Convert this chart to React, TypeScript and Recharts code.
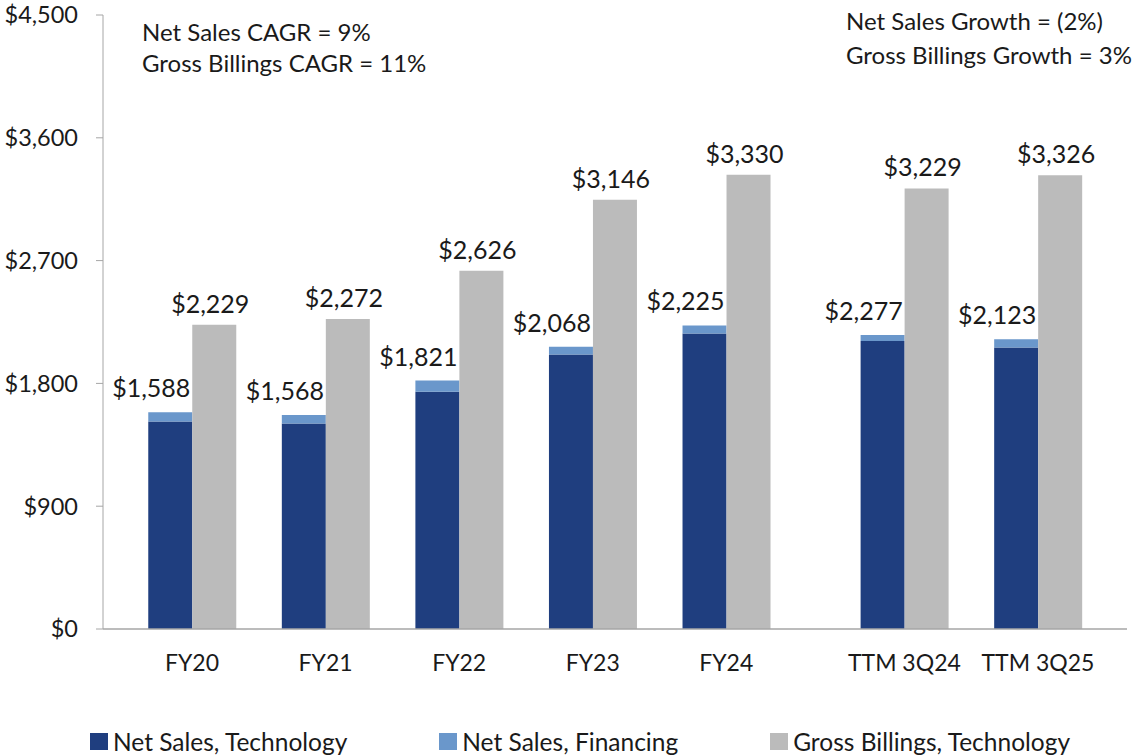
import React from 'react';
import { BarChart, Bar, XAxis, YAxis, Legend, LabelList } from 'recharts';

const categories = ['FY20', 'FY21', 'FY22', 'FY23', 'FY24', 'TTM 3Q24', 'TTM 3Q25'];
const netSalesTechnology = [1520, 1506, 1738, 2012, 2166, 2111, 2064];
const netSalesFinancing = [68, 62, 83, 56, 59, 44, 59];
const grossBillingsTechnology = [2229, 2272, 2626, 3146, 3330, 3229, 3326];
const netSalesLabels = [1588, 1568, 1821, 2068, 2225, 2277, 2123];
const yTicks = [0, 900, 1800, 2700, 3600, 4500];
const notesLeft = ['Net Sales CAGR = 9%', 'Gross Billings CAGR = 11%'];
const notesRight = ['Net Sales Growth = (2%)', 'Gross Billings Growth = 3%'];
const seriesNames = ['Net Sales, Technology', 'Net Sales, Financing', 'Gross Billings, Technology'];

const COLORS = { tech: '#1F3E7F', fin: '#6A97CB', gross: '#BBBBBB' };
const FONT = 'Lato, "Noto Sans", sans-serif';
const TEXT = '#1a1a1a';

const TTM_GAP = 1 / 3;
const slots = categories.map((c, i) => i + (c.startsWith('TTM') ? TTM_GAP : 0));

const data = categories.map((c, i) => ({
  slot: slots[i],
  name: c,
  tech: netSalesTechnology[i],
  fin: netSalesFinancing[i],
  gross: grossBillingsTechnology[i],
  netLabel: netSalesLabels[i],
}));

const money = (v: number) => `$${Number(v).toLocaleString('en-US')}`;

const XTick = (props: any) => {
  const { x, y, payload } = props;
  const idx = slots.findIndex((s) => Math.abs(s - payload.value) < 1e-6);
  return (
    <text x={x} y={y + 33} textAnchor="middle" dominantBaseline="central" fontSize={23} fontFamily={FONT} fill={TEXT}>
      {idx >= 0 ? categories[idx] : ''}
    </text>
  );
};

const NetLabel = (props: any) => {
  const { x, y, width, value } = props;
  return (
    <text x={x + width / 2 - 19} y={y - 25} textAnchor="middle" dominantBaseline="central" fontSize={25} fontFamily={FONT} fill={TEXT}>
      {money(value)}
    </text>
  );
};

const GrossLabel = (props: any) => {
  const { x, y, width, value } = props;
  return (
    <text x={x + width / 2 - 4} y={y - 22} textAnchor="middle" dominantBaseline="central" fontSize={25} fontFamily={FONT} fill={TEXT}>
      {money(value)}
    </text>
  );
};

const LegendContent = () => {
  const colors = [COLORS.tech, COLORS.fin, COLORS.gross];
  return (
    <div style={{ display: 'flex', justifyContent: 'flex-start', paddingLeft: 90, gap: 92, fontFamily: FONT, fontSize: 24.5, color: TEXT }}>
      {seriesNames.map((n, i) => (
        <div key={n} style={{ display: 'flex', alignItems: 'center', whiteSpace: 'nowrap' }}>
          <span style={{ display: 'inline-block', width: 18, height: 17, background: colors[i], marginRight: 5 }} />
          <span>{n}</span>
        </div>
      ))}
    </div>
  );
};

export default function App() {
  return (
    <div style={{ position: 'absolute', left: 0, top: 0, width: 1135, height: 755, background: '#fff', fontFamily: FONT }}>
      <BarChart width={1135} height={755} data={data} margin={{ top: 15, right: 8, left: 0, bottom: 0 }} barGap={0}>
        <XAxis
          type="number"
          dataKey="slot"
          domain={[-2 / 3, 7]}
          ticks={slots}
          interval={0}
          allowDataOverflow
          height={126}
          tickLine={false}
          tickSize={0}
          tickMargin={0}
          tick={<XTick />}
          axisLine={{ stroke: '#A6A6A6', strokeWidth: 1.5 }}
        />
        <YAxis
          type="number"
          domain={[0, 4500]}
          ticks={yTicks}
          interval={0}
          width={103}
          tickSize={7}
          tickMargin={18}
          tickFormatter={money}
          tick={{ fontSize: 23.5, fontFamily: FONT, fill: TEXT }}
          tickLine={{ stroke: '#A6A6A6' }}
          axisLine={{ stroke: '#A6A6A6' }}
        />
        <Legend
          verticalAlign="middle"
          align="center"
          layout="horizontal"
          content={<LegendContent />}
          wrapperStyle={{ top: 727, left: 0, width: 1135, height: 28 }}
        />
        <Bar dataKey="tech" stackId="net" fill={COLORS.tech} barSize={44} isAnimationActive={false} name={seriesNames[0]} />
        <Bar dataKey="fin" stackId="net" fill={COLORS.fin} barSize={44} isAnimationActive={false} name={seriesNames[1]}>
          <LabelList dataKey="netLabel" content={<NetLabel />} />
        </Bar>
        <Bar dataKey="gross" fill={COLORS.gross} barSize={44} isAnimationActive={false} name={seriesNames[2]}>
          <LabelList dataKey="gross" content={<GrossLabel />} />
        </Bar>
      </BarChart>
      <div style={{ position: 'absolute', left: 142, top: 16, fontSize: 24, lineHeight: '31px', color: TEXT, whiteSpace: 'nowrap' }}>
        {notesLeft.map((t) => (
          <div key={t}>{t}</div>
        ))}
      </div>
      <div style={{ position: 'absolute', left: 846, top: 4, fontSize: 24, lineHeight: '34px', color: TEXT, whiteSpace: 'nowrap' }}>
        {notesRight.map((t) => (
          <div key={t}>{t}</div>
        ))}
      </div>
    </div>
  );
}
